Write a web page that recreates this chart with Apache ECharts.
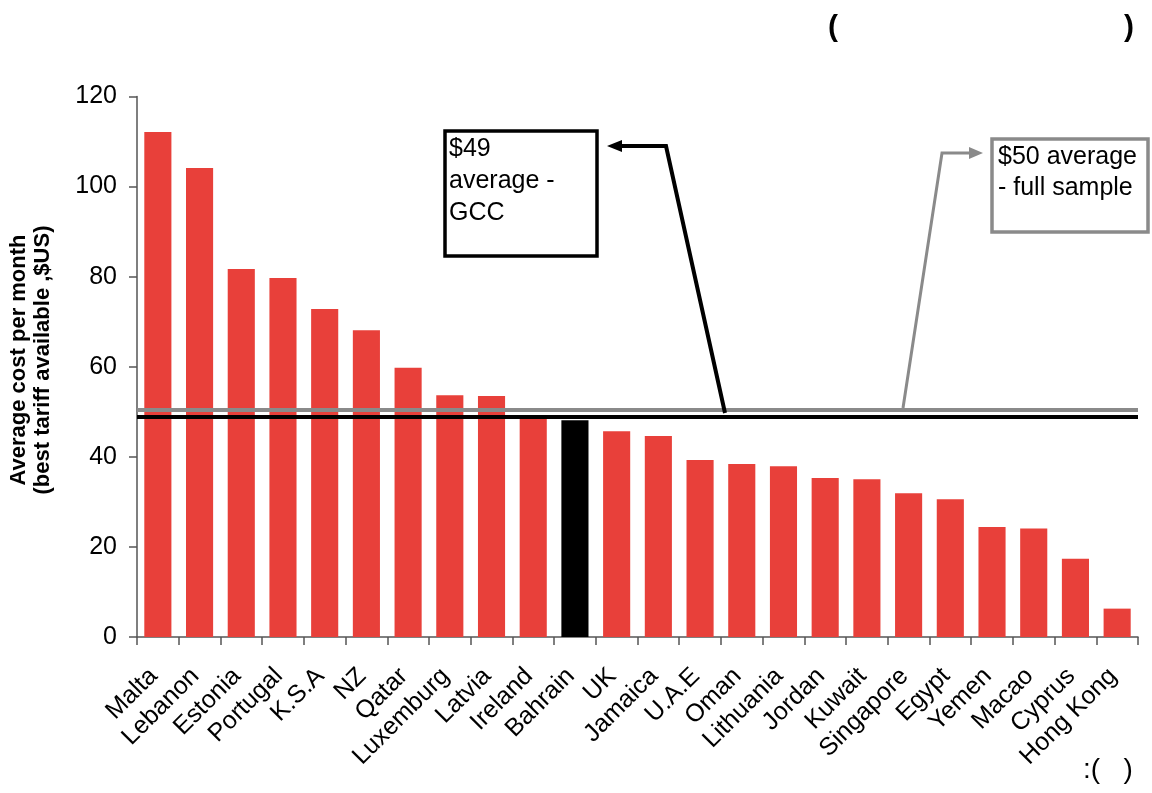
<!DOCTYPE html>
<html>
<head>
<meta charset="utf-8">
<script src="https://cdn.jsdelivr.net/npm/echarts@6/dist/echarts.min.js"></script>
<style>
html,body{margin:0;padding:0;background:#fff;}
#chart{width:1152px;height:793px;}
</style>
</head>
<body>
<div id="chart"></div>
<script>
// ---- data ----
var countries = ['Malta','Lebanon','Estonia','Portugal','K.S.A','NZ','Qatar','Luxemburg','Latvia','Ireland','Bahrain','UK','Jamaica','U.A.E','Oman','Lithuania','Jordan','Kuwait','Singapore','Egypt','Yemen','Macao','Cyprus','Hong Kong'];
var costs = [112.1, 104.1, 81.7, 79.7, 72.8, 68.1, 59.8, 53.7, 53.5, 49.0, 48.1, 45.7, 44.6, 39.3, 38.4, 37.9, 35.3, 35.0, 31.9, 30.6, 24.4, 24.1, 17.4, 6.3];
var highlighted = ['Bahrain'];
var averageGCC = 48.8;
var averageFull = 50.5;
var yTicks = {min: 0, max: 120, interval: 20};
var yTitle = 'Average cost per month\n(best tariff available ,$US)';
var noteGCC = '$49\naverage -\nGCC';
var noteFull = '$50 average\n- full sample';

var RED = '#E8403A';
var FONT = 'Liberation Sans, Arial, sans-serif';

var chart = echarts.init(document.getElementById('chart'));

var barData = countries.map(function (c, i) {
  return {
    value: costs[i],
    itemStyle: {color: highlighted.indexOf(c) >= 0 ? '#000000' : RED}
  };
});

var option = {
  backgroundColor: '#ffffff',
  animation: false,
  grid: {left: 137, right: 14, top: 96.5, bottom: 156, containLabel: false},
  xAxis: {
    type: 'category',
    data: countries,
    axisLine: {lineStyle: {color: '#555', width: 1.5}},
    axisTick: {show: true, interval: 0, length: 8, lineStyle: {color: '#555', width: 1.5}},
    axisLabel: {interval: 0, rotate: 45, fontSize: 25, color: '#000', fontFamily: FONT, margin: 31, padding: [0, 6, 0, 0]}
  },
  yAxis: {
    type: 'value',
    min: yTicks.min, max: yTicks.max, interval: yTicks.interval,
    axisLine: {show: true, lineStyle: {color: '#555', width: 1.5}},
    axisTick: {show: true, length: 8, lineStyle: {color: '#555', width: 1.5}},
    axisLabel: {fontSize: 25, color: '#000', fontFamily: FONT, margin: 20},
    splitLine: {show: false}
  },
  series: [{
    type: 'bar',
    data: barData,
    barCategoryGap: '35%',
    markLine: {
      silent: true,
      symbol: ['none', 'none'],
      label: {show: false},
      animation: false,
      data: [
        {yAxis: averageFull, lineStyle: {color: '#8a8a8a', width: 4, type: 'solid'}},
        {yAxis: averageGCC, lineStyle: {color: '#000000', width: 4, type: 'solid'}}
      ]
    }
  }],
  graphic: [
    // y-axis title
    {type: 'text', x: 31, y: 360, rotation: Math.PI / 2, z: 10,
      style: {text: yTitle, font: 'bold 22px ' + FONT, fill: '#000', align: 'center', verticalAlign: 'middle', lineHeight: 24}},
    // title placeholder parentheses
    {type: 'text', x: 833, y: 28, z: 10,
      style: {text: '(', font: 'bold 30px ' + FONT, fill: '#000', align: 'center', verticalAlign: 'middle'}},
    {type: 'text', x: 1129, y: 28, z: 10,
      style: {text: ')', font: 'bold 30px ' + FONT, fill: '#000', align: 'center', verticalAlign: 'middle'}},
    // source placeholder
    {type: 'text', x: 1083, y: 770, z: 10,
      style: {text: ':(   )', font: '28px ' + FONT, fill: '#000', align: 'left', verticalAlign: 'middle'}},
    // GCC box
    {type: 'rect', shape: {x: 445, y: 131, width: 152, height: 125}, z: 10,
      style: {fill: '#fff', stroke: '#000', lineWidth: 3.5}},
    {type: 'text', x: 449, y: 133, z: 11,
      style: {text: noteGCC, font: '25px ' + FONT, fill: '#000', align: 'left', verticalAlign: 'top', lineHeight: 32}},
    // GCC arrow
    {type: 'polyline', shape: {points: [[725, 413], [666, 146], [618, 146]]}, z: 10,
      style: {stroke: '#000', lineWidth: 4, fill: null}},
    {type: 'polygon', shape: {points: [[607, 146], [622, 140], [622, 152]]}, z: 10,
      style: {fill: '#000'}},
    // full sample box
    {type: 'rect', shape: {x: 992, y: 139, width: 156, height: 93}, z: 10,
      style: {fill: '#fff', stroke: '#8a8a8a', lineWidth: 3.5}},
    {type: 'text', x: 998, y: 142, z: 11,
      style: {text: noteFull, font: '25px ' + FONT, fill: '#000', align: 'left', verticalAlign: 'top', lineHeight: 31}},
    // full sample arrow
    {type: 'polyline', shape: {points: [[903, 408], [942, 153], [972, 153]]}, z: 10,
      style: {stroke: '#8a8a8a', lineWidth: 3, fill: null}},
    {type: 'polygon', shape: {points: [[983, 153], [969, 147], [969, 159]]}, z: 10,
      style: {fill: '#8a8a8a'}}
  ]
};

chart.setOption(option);
</script>
</body>
</html>
